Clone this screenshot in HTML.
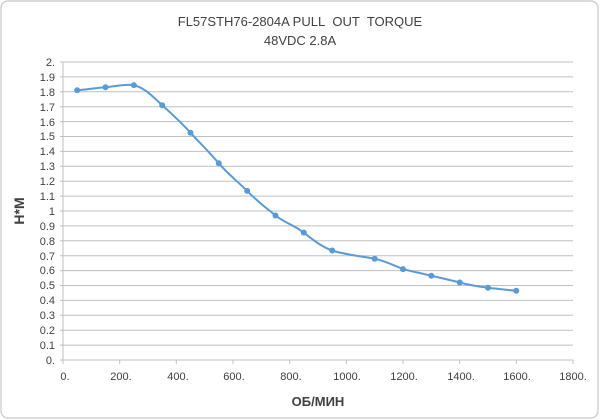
<!DOCTYPE html>
<html><head><meta charset="utf-8"><style>
html,body{margin:0;padding:0;background:#fff;}
svg{display:block;font-family:"Liberation Sans",sans-serif;}
</style></head><body>
<svg width="600" height="420" viewBox="0 0 600 420" xmlns="http://www.w3.org/2000/svg">
<rect x="1" y="1" width="597" height="417" rx="7" fill="#fff" stroke="#c8c8c8" stroke-width="1.2"/>
<text x="300" y="26" text-anchor="middle" font-size="13" fill="#404040">FL57STH76-2804A PULL&#160; OUT&#160; TORQUE</text>
<text x="300" y="45" text-anchor="middle" font-size="13" fill="#404040">48VDC 2.8A</text>
<g stroke="#bfbfbf" stroke-width="1">
<line x1="60" y1="62" x2="573" y2="62"/><line x1="60" y1="76.9" x2="573" y2="76.9"/><line x1="60" y1="91.8" x2="573" y2="91.8"/><line x1="60" y1="106.7" x2="573" y2="106.7"/><line x1="60" y1="121.6" x2="573" y2="121.6"/><line x1="60" y1="136.5" x2="573" y2="136.5"/><line x1="60" y1="151.4" x2="573" y2="151.4"/><line x1="60" y1="166.3" x2="573" y2="166.3"/><line x1="60" y1="181.2" x2="573" y2="181.2"/><line x1="60" y1="196.1" x2="573" y2="196.1"/><line x1="60" y1="211" x2="573" y2="211"/><line x1="60" y1="225.9" x2="573" y2="225.9"/><line x1="60" y1="240.8" x2="573" y2="240.8"/><line x1="60" y1="255.7" x2="573" y2="255.7"/><line x1="60" y1="270.6" x2="573" y2="270.6"/><line x1="60" y1="285.5" x2="573" y2="285.5"/><line x1="60" y1="300.4" x2="573" y2="300.4"/><line x1="60" y1="315.3" x2="573" y2="315.3"/><line x1="60" y1="330.2" x2="573" y2="330.2"/><line x1="60" y1="345.1" x2="573" y2="345.1"/><line x1="60" y1="360" x2="573" y2="360"/>
<line x1="63" y1="62" x2="63" y2="364"/>
<line x1="119.7" y1="360" x2="119.7" y2="364"/><line x1="176.3" y1="360" x2="176.3" y2="364"/><line x1="233" y1="360" x2="233" y2="364"/><line x1="289.7" y1="360" x2="289.7" y2="364"/><line x1="346.3" y1="360" x2="346.3" y2="364"/><line x1="403" y1="360" x2="403" y2="364"/><line x1="459.7" y1="360" x2="459.7" y2="364"/><line x1="516.3" y1="360" x2="516.3" y2="364"/><line x1="573" y1="360" x2="573" y2="364"/>
</g>
<g font-size="11" fill="#404040" text-anchor="end">
<text x="55" y="66">2.</text><text x="55" y="81">1.9</text><text x="55" y="96">1.8</text><text x="55" y="111">1.7</text><text x="55" y="126">1.6</text><text x="55" y="140">1.5</text><text x="55" y="155">1.4</text><text x="55" y="170">1.3</text><text x="55" y="185">1.2</text><text x="55" y="200">1.1</text><text x="55" y="215">1</text><text x="55" y="230">0.9</text><text x="55" y="245">0.8</text><text x="55" y="260">0.7</text><text x="55" y="274">0.6</text><text x="55" y="289">0.5</text><text x="55" y="304">0.4</text><text x="55" y="319">0.3</text><text x="55" y="334">0.2</text><text x="55" y="349">0.1</text><text x="55" y="364">0.</text>
</g>
<g font-size="11" fill="#404040" text-anchor="middle">
<text x="65" y="380">0.</text><text x="121" y="380">200.</text><text x="178" y="380">400.</text><text x="234" y="380">600.</text><text x="291" y="380">800.</text><text x="347" y="380">1000.</text><text x="404" y="380">1200.</text><text x="461" y="380">1400.</text><text x="517" y="380">1600.</text><text x="573" y="380">1800.</text>
</g>
<text x="318" y="406" text-anchor="middle" font-size="13" font-weight="bold" fill="#404040">ОБ/МИН</text>
<text transform="translate(24,211) rotate(-90)" text-anchor="middle" font-size="14" font-weight="bold" fill="#404040">Н*М</text>
<path d="M77.2,90.3 C86,89.5 96,88 105.5,87.3 C115,86.5 124,84 133.8,85.1 C145,88 152,96 162.2,105.2 C172,114 181,122 190.5,132.8 C200,143 209,152 218.8,163.3 C228,174 237,181 247.2,190.9 C257,201 265,207 275.5,215.5 C285,223 294,225 303.8,232.6 C313,240 322,247 332.2,250.5 C346,255 360,256 374.7,258.7 C385,261 393,265 403,269.1 C413,272 421,273 431.3,275.8 C441,278 450,280 459.7,282.5 C469,285 478,286.5 488,287.7 C497,288.7 507,290 516.3,290.7" fill="none" stroke="#5b9bd5" stroke-width="2"/>
<g fill="#5b9bd5">
<circle cx="77.2" cy="90.3" r="3"/><circle cx="105.5" cy="87.3" r="3"/><circle cx="133.8" cy="85.1" r="3"/><circle cx="162.2" cy="105.2" r="3"/><circle cx="190.5" cy="132.8" r="3"/><circle cx="218.8" cy="163.3" r="3"/><circle cx="247.2" cy="190.9" r="3"/><circle cx="275.5" cy="215.5" r="3"/><circle cx="303.8" cy="232.6" r="3"/><circle cx="332.2" cy="250.5" r="3"/><circle cx="374.7" cy="258.7" r="3"/><circle cx="403" cy="269.1" r="3"/><circle cx="431.3" cy="275.8" r="3"/><circle cx="459.7" cy="282.5" r="3"/><circle cx="488" cy="287.7" r="3"/><circle cx="516.3" cy="290.7" r="3"/>
</g>
</svg>
</body></html>
